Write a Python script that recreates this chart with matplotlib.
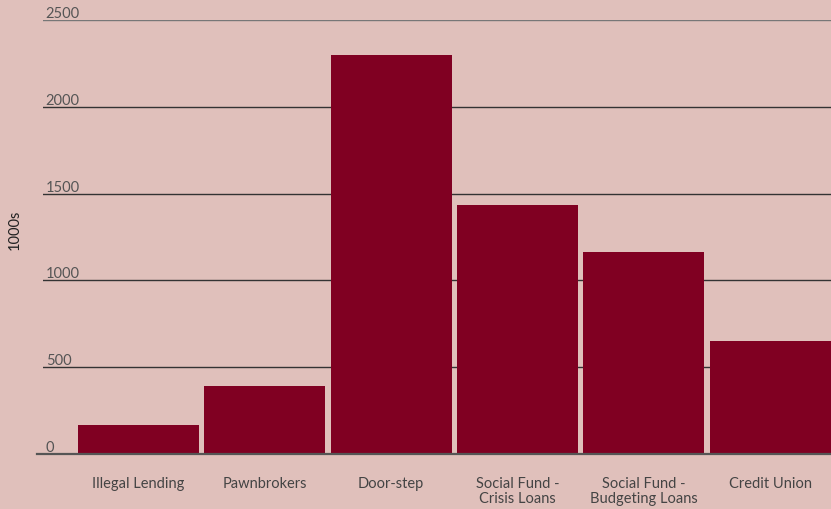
import numpy as np
import matplotlib.pyplot as plt

categories = ["Illegal Lending", "Pawnbrokers", "Door-step",
              "Social Fund -\nCrisis Loans", "Social Fund -\nBudgeting Loans",
              "Credit Union"]
values = [165, 393, 2300, 1432, 1166, 652]
yticks = [0, 500, 1000, 1500, 2000, 2500]

bg = '#e0c0bb'
bar_color = '#800022'

plt.rcParams['font.family'] = ['Lato', 'DejaVu Sans']

fig = plt.figure(figsize=(8.31, 5.10), dpi=100)
fig.patch.set_facecolor(bg)
ax = fig.add_axes([43 / 831, 55 / 510, 788 / 831, 434 / 510])
ax.set_facecolor(bg)

x = np.arange(len(categories))
ax.bar(x, values, width=0.957, color=bar_color, zorder=3)

ax.set_xlim(-0.755, len(categories) - 0.52)
ax.set_ylim(0, 2500)

# gridlines
for t in yticks[1:]:
    ax.axhline(t, color='#777777' if t == yticks[-1] else '#333333',
               linewidth=1, zorder=1)
ax.plot([-0.007, 1], [0, 0], transform=ax.get_yaxis_transform(),
        color='#555555', linewidth=1.6, clip_on=False, zorder=4)

for s in ax.spines.values():
    s.set_visible(False)

ax.set_yticks(yticks)
ax.set_yticklabels([str(t) for t in yticks])
ax.tick_params(axis='y', length=0, pad=-2, labelsize=10.5, labelcolor='#555555')
for lab in ax.get_yticklabels():
    lab.set_horizontalalignment('left')
    lab.set_verticalalignment('bottom')

ax.set_xticks(x)
ax.set_xticklabels(categories, linespacing=1.05)
ax.tick_params(axis='x', length=0, pad=16, labelsize=10.5, labelcolor='#444444')

fig.text(15 / 831, 1 - 230 / 510, "1000s", rotation=90, ha='center', va='center',
         fontsize=10.5, color='#222222')

fig.savefig('out.png', dpi=100, facecolor=bg)
